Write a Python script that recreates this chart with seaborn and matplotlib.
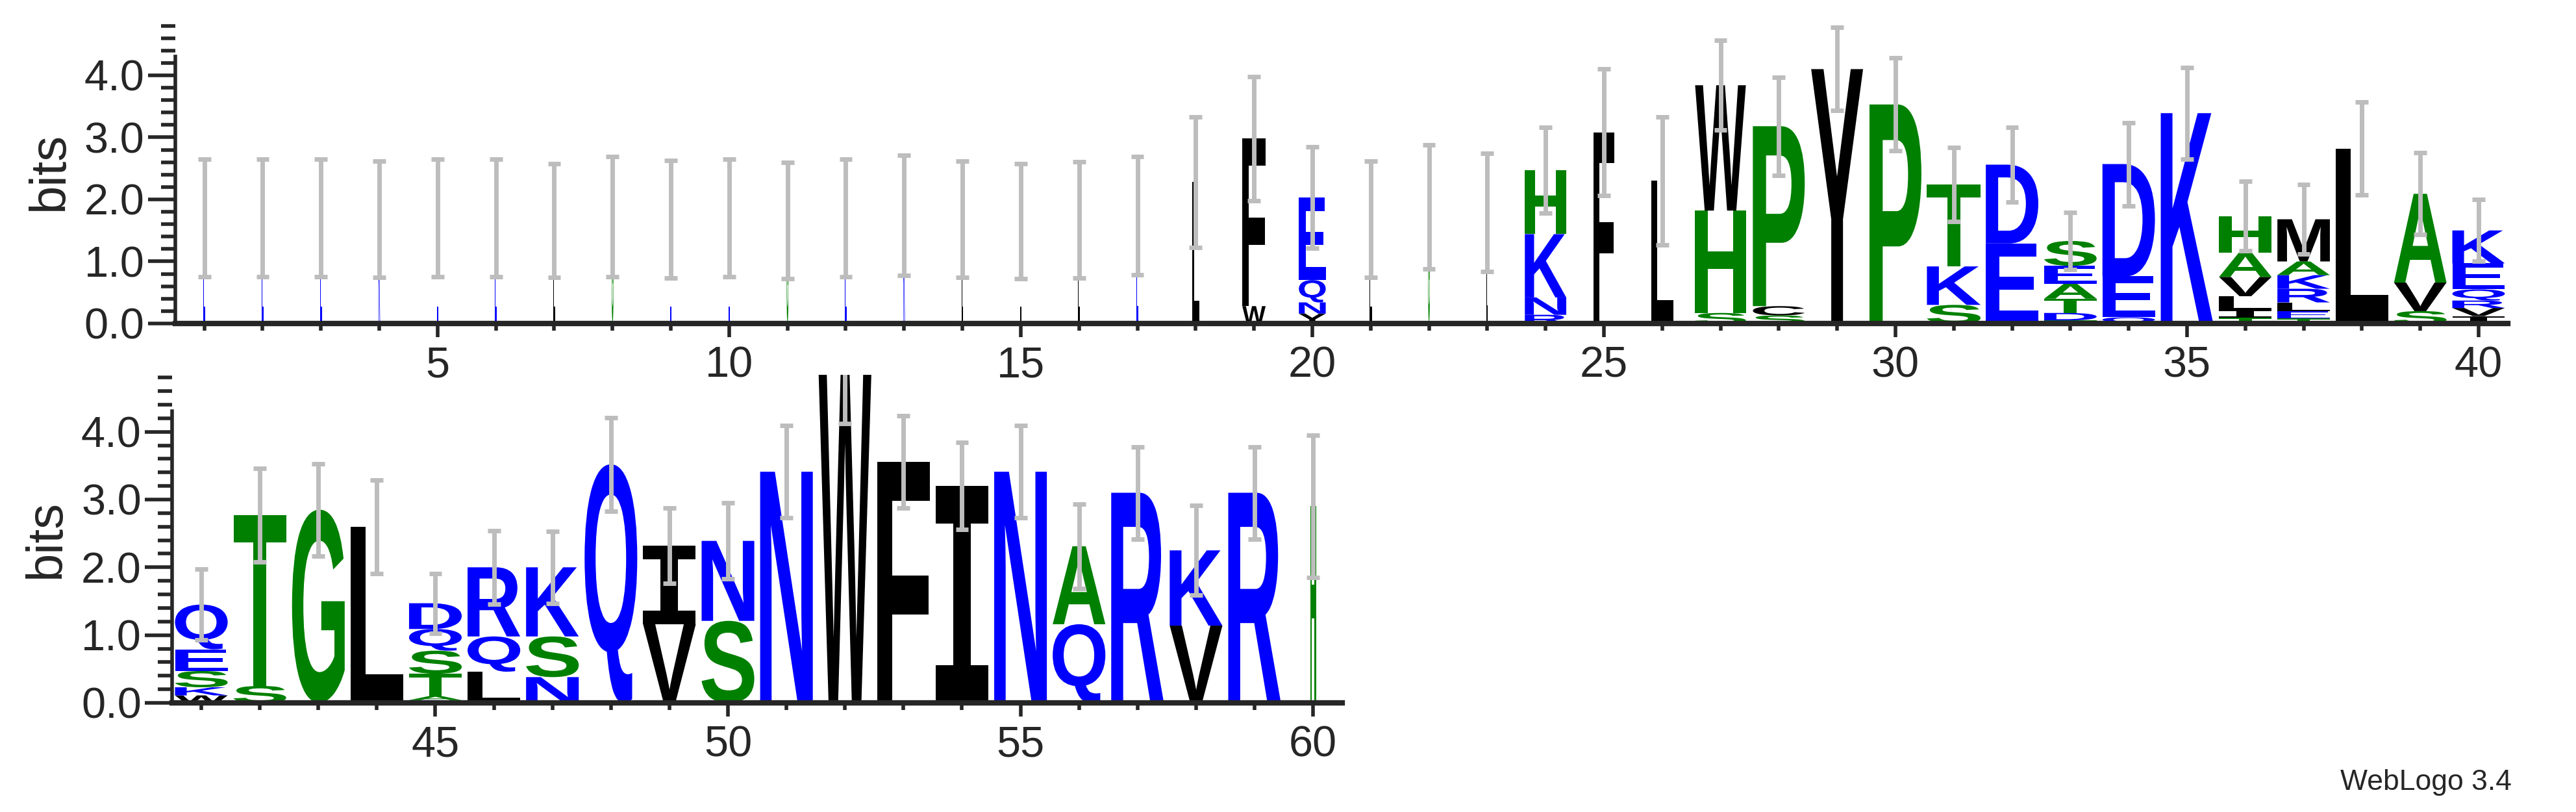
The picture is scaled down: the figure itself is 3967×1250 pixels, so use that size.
import matplotlib
matplotlib.use("Agg")
import matplotlib.pyplot as plt
import matplotlib.transforms as mtrans
from matplotlib.textpath import TextPath
from matplotlib.patches import PathPatch
from matplotlib.font_manager import FontProperties
from matplotlib.ticker import MultipleLocator, FormatStrFormatter
import seaborn as sns

# %% data: stacks bottom -> top (letter, bits), error half-width, column width
positions_top = list(range(1, 41))
stacks_top = [
    [("E", 1.70)], [("E", 1.70)], [("E", 1.70)], [("K", 1.68)], [("E", 1.70)],
    [("E", 1.70)], [("L", 1.66)], [("G", 1.72)], [("E", 1.68)], [("E", 1.70)],
    [("G", 1.66)], [("E", 1.70)], [("K", 1.74)], [("L", 1.68)], [("L", 1.65)],
    [("L", 1.67)], [("E", 1.74)],
    [("L", 2.28)],
    [("W", 0.28), ("F", 2.70)],
    [("Y", 0.16), ("N", 0.18), ("Q", 0.36), ("E", 1.33)],
    [("L", 1.68)],
    [("G", 1.88)],
    [("L", 1.79)],
    [("R", 0.14), ("N", 0.28), ("K", 1.02), ("H", 1.03)],
    [("F", 3.08)],
    [("L", 2.30)],
    [("S", 0.17), ("H", 1.65), ("W", 2.02)],
    [("S", 0.13), ("C", 0.15), ("P", 2.90)],
    [("Y", 4.10)],
    [("P", 3.53)],
    [("S", 0.30), ("K", 0.62), ("T", 1.32)],
    [("E", 1.29), ("D", 1.27)],
    [("T", 0.05), ("D", 0.12), ("T", 0.23), ("A", 0.24), ("E", 0.29), ("S", 0.40)],
    [("Q", 0.10), ("E", 0.66), ("D", 1.81)],
    [("K", 3.39)],
    [("T", 0.09), ("I", 0.13), ("L", 0.22), ("V", 0.31), ("A", 0.39), ("H", 0.59)],
    [("T", 0.08), ("E", 0.12), ("L", 0.14), ("R", 0.22), ("K", 0.22), ("A", 0.22), ("M", 0.68)],
    [("L", 2.82)],
    [("S", 0.20), ("V", 0.46), ("A", 1.43)],
    [("I", 0.12), ("V", 0.13), ("R", 0.12), ("Q", 0.18), ("E", 0.42), ("K", 0.53)],
]
errors_top = [0.95, 0.95, 0.95, 0.94, 0.95, 0.95, 0.92, 0.97, 0.95, 0.95,
              0.94, 0.95, 0.97, 0.94, 0.93, 0.94, 0.95, 1.05, 1.00, 0.82,
              0.94, 1.00, 0.95, 0.69, 1.02, 1.03, 0.72, 0.79, 0.67, 0.75,
              0.60, 0.60, 0.46, 0.67, 0.74, 0.56, 0.56, 0.75, 0.66, 0.50]
widths_top = [0.03, 0.03, 0.03, 0.03, 0.03, 0.03, 0.03, 0.03, 0.03, 0.03,
              0.03, 0.03, 0.03, 0.03, 0.03, 0.03, 0.03, 0.12, 0.40, 0.46,
              0.04, 0.03, 0.02, 0.71, 0.36, 0.38, 0.87, 0.89, 0.89, 0.89,
              0.92, 0.90, 0.90, 0.90, 0.90, 0.90, 0.90, 0.90, 0.90, 0.90]

positions_bottom = list(range(41, 61))
stacks_bottom = [
    [("W", 0.11), ("K", 0.12), ("S", 0.24), ("E", 0.32), ("Q", 0.66)],
    [("S", 0.25), ("T", 2.52)],
    [("G", 2.85)],
    [("L", 2.60)],
    [("D", 0.04), ("A", 0.06), ("T", 0.33), ("S", 0.34), ("Q", 0.32), ("D", 0.38)],
    [("L", 0.46), ("Q", 0.52), ("R", 1.02)],
    [("N", 0.38), ("S", 0.60), ("K", 1.02)],
    [("Q", 3.52)],
    [("V", 1.16), ("I", 1.16)],
    [("S", 1.21), ("N", 1.18)],
    [("N", 3.41)],
    [("W", 4.84)],
    [("F", 3.56)],
    [("I", 3.20)],
    [("N", 3.41)],
    [("Q", 1.16), ("A", 1.15)],
    [("R", 3.10)],
    [("V", 1.14), ("K", 1.11)],
    [("R", 3.10)],
    [("H", 2.90)],
]
errors_bottom = [0.52, 0.69, 0.68, 0.69, 0.44, 0.54, 0.53, 0.69, 0.56, 0.56,
                 0.68, 0.72, 0.68, 0.64, 0.68, 0.62, 0.68, 0.66, 0.68, 1.05]
widths_bottom = [0.90, 0.90, 0.90, 0.90, 0.90, 0.90, 0.90, 0.90, 0.90, 0.90,
                 0.90, 0.90, 0.90, 0.90, 0.90, 0.90, 0.90, 0.90, 0.90, 0.10]

green_letters = "GSTAHP"
blue_letters = "QNKRDE"

# %%
sns.set_style("ticks")
plt.rcParams["font.family"] = ["Liberation Sans", "DejaVu Sans"]
fp = FontProperties(family="Liberation Sans", weight="bold")
fp_serif_i = FontProperties(family="DejaVu Sans Mono", weight="bold")


def letter_color(ch):
    if ch in green_letters:
        return "#008000"
    if ch in blue_letters:
        return "#0000ff"
    return "#000000"


def draw_letter(ax, ch, x, y0, w, h):
    # weblogo's I has bars top and bottom
    tp = TextPath((0, 0), ch, size=1, prop=fp_serif_i if ch == "I" else fp)
    bb = tp.get_extents()
    t = (mtrans.Affine2D().translate(-bb.x0, -bb.y0)
         .scale(w / bb.width, h / bb.height).translate(x - w / 2, y0))
    ax.add_patch(PathPatch(t.transform_path(tp), fc=letter_color(ch), ec="none", lw=0))


def draw_logo(ax, positions, stacks, errors, widths):
    for x, stack, e, w in zip(positions, stacks, errors, widths):
        y = 0.0
        for ch, h in stack:
            draw_letter(ax, ch, x, y, w, h)
            y += h
        ax.vlines(x, y - e, y + e, color="#bdbdbd", lw=5, zorder=3)
        ax.hlines([y - e, y + e], x - 0.11, x + 0.11, color="#bdbdbd", lw=5, zorder=3)


def style_axis(ax, lo, hi, ymax):
    ax.set_xlim(lo - 0.5, hi + 0.5)
    ax.set_ylim(0, ymax)
    ax.xaxis.set_major_locator(MultipleLocator(5))
    ax.xaxis.set_minor_locator(MultipleLocator(1))
    ax.yaxis.set_major_locator(MultipleLocator(1))
    ax.yaxis.set_minor_locator(MultipleLocator(0.2))
    ax.yaxis.set_major_formatter(FormatStrFormatter("%.1f"))
    ax.spines["left"].set_bounds(0, 4.3)
    ax.spines["left"].set_linewidth(4)
    ax.spines["bottom"].set_linewidth(6)
    sns.despine(ax=ax)
    ax.patch.set_visible(False)
    ax.tick_params(axis="x", which="major", length=15, width=4, labelsize=48, pad=10)
    ax.tick_params(axis="x", which="minor", length=8, width=4)
    ax.tick_params(axis="y", which="major", length=30, width=4, labelsize=48, pad=4)
    ax.tick_params(axis="y", which="minor", length=16, width=4)
    ax.set_ylabel("bits", fontsize=56, labelpad=12)


fig = plt.figure(figsize=(39.67, 12.5), dpi=100)
ax2 = fig.add_axes([0.0668, 0.1344, 0.4543, 0.404])
ax1 = fig.add_axes([0.068, 0.6016, 0.9055, 0.3744])

draw_logo(ax1, positions_top, stacks_top, errors_top, widths_top)
draw_logo(ax2, positions_bottom, stacks_bottom, errors_bottom, widths_bottom)
style_axis(ax1, 1, 40, 4.9)
style_axis(ax2, 41, 60, 4.84)
ax1.set_xticks(range(5, 41, 5))
ax2.set_xticks(range(45, 61, 5))

fig.text(0.975, 0.02, "WebLogo 3.4", ha="right", va="bottom", fontsize=32)
fig.savefig("out.png", dpi=100)
